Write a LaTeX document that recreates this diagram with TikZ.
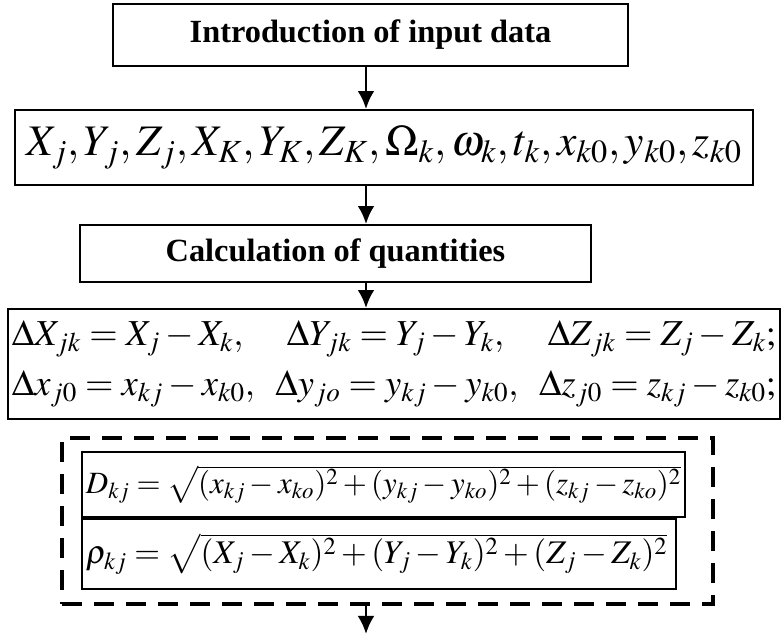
\documentclass[tikz,border=0pt]{standalone}
\usepackage{mathptmx}
\usepackage{fontspec}
\setmainfont{Liberation Serif}
\usepackage{tikz}
\usetikzlibrary{arrows.meta, positioning, calc}
\tikzset{
  box/.style={rectangle, draw=black, line width=1.3pt, inner sep=0pt, align=center},
  titlebox/.style={box, font=\fontsize{23}{27}\selectfont\bfseries},
  mathbox/.style={box, inner xsep=0.1cm, align=left},
  groupbox/.style={rectangle, draw=black, line width=3pt, dash pattern=on 0.5cm off 0.3cm, inner sep=0pt},
  arrow/.style={-{Latex[length=0.45cm, width=0.42cm]}, line width=2pt}
}

\begin{document}
\begin{tikzpicture}[x=0.025cm, y=-0.025cm]
  \useasboundingbox (0,0) rectangle (782,636);
  \coordinate (spine) at (366,0);

  % Input data
  \node[titlebox, minimum width=12.875cm, minimum height=1.55cm] (intro) at (370.5,35) {Introduction of input data};
  \node[box, minimum width=18.45cm, minimum height=1.875cm, font=\fontsize{31}{35}\selectfont] (data) at (384,147.5)
    {$X_j, Y_j, Z_j, X_K, Y_K, Z_K, \Omega_k, \omega_k, t_k, x_{k0}, y_{k0}, z_{k0}$};

  % Calculation
  \node[titlebox, minimum width=12.775cm, minimum height=1.425cm] (calc) at (335.5,253.5) {Calculation of quantities};
  \node[mathbox, text width=19.1cm, minimum height=2.75cm, font=\fontsize{26}{36}\selectfont] (diff) at (394,364)
    {$\Delta X_{jk} = X_j - X_k,$\hfill$\Delta Y_{jk} = Y_j - Y_k,$\hfill$\Delta Z_{jk} = Z_j - Z_k;$\\
     $\Delta x_{j0} = x_{kj} - x_{k0},$\hfill$\Delta y_{jo} = y_{kj} - y_{k0},$\hfill$\Delta z_{j0} = z_{kj} - z_{k0};$};

  % Distances
  \node[groupbox, minimum width=16.275cm, minimum height=4.15cm] (group) at (387.5,521) {};
  \node[mathbox, text width=14.875cm, minimum height=1.625cm, font=\fontsize{22}{26}\selectfont] (dist) at (383.5,484.5)
    {$D_{kj} = \sqrt{(x_{kj} - x_{ko})^2 + (y_{kj} - y_{ko})^2 + (z_{kj} - z_{ko})^2}$};
  \node[mathbox, text width=14.65cm, minimum height=1.75cm, font=\fontsize{23.5}{27}\selectfont, anchor=north west] (rho) at (dist.south west)
    {$\rho_{kj} = \sqrt{(X_j - X_k)^2 + (Y_j - Y_k)^2 + (Z_j - Z_k)^2}$};
  \coordinate (out) at (366,634);

  % Arrows
  \draw[arrow] (intro.south -| spine) -- (data.north -| spine);
  \draw[arrow] (data.south -| spine) -- (calc.north -| spine);
  \draw[arrow] (calc.south -| spine) -- (diff.north -| spine);
  \draw[arrow] (group.south -| spine) -- (out);
\end{tikzpicture}
\end{document}
